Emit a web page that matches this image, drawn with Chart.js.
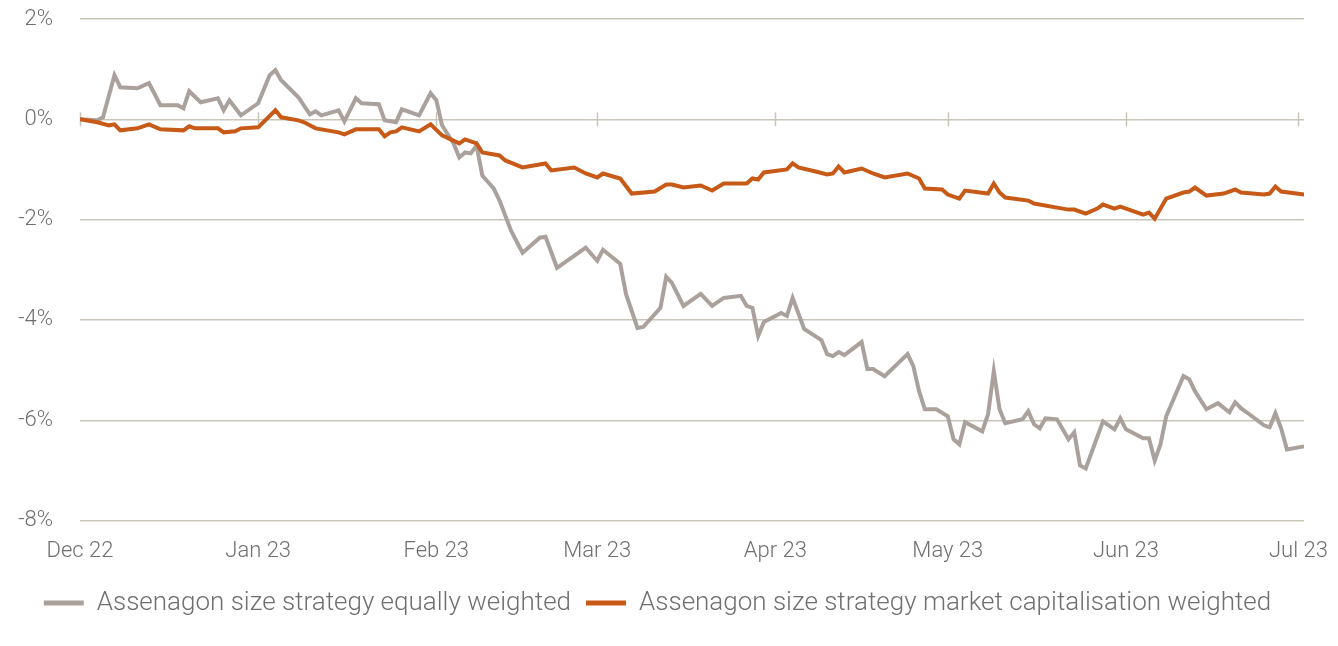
<!DOCTYPE html>
<html>
<head>
<meta charset="utf-8">
<script src="https://cdn.jsdelivr.net/npm/chart.js@4.4.0/dist/chart.umd.min.js"></script>
<style>
  html, body { margin: 0; padding: 0; background: #fff; }
  #wrap { width: 1338px; height: 646px; }
</style>
</head>
<body>
<div id="wrap"><canvas id="chart"></canvas></div>
<script>
// performance relative to start, in %
const eqDates = [
  '2022-12-01','2022-12-04','2022-12-05','2022-12-07','2022-12-08','2022-12-11','2022-12-13','2022-12-15',
  '2022-12-18','2022-12-19','2022-12-20','2022-12-22','2022-12-25','2022-12-26','2022-12-27','2022-12-29',
  '2023-01-01','2023-01-03','2023-01-04','2023-01-05','2023-01-08','2023-01-10','2023-01-11','2023-01-12',
  '2023-01-15','2023-01-16','2023-01-18','2023-01-19','2023-01-22','2023-01-23','2023-01-25','2023-01-26',
  '2023-01-29','2023-01-31','2023-02-01','2023-02-02','2023-02-04','2023-02-05','2023-02-06','2023-02-07',
  '2023-02-08','2023-02-09','2023-02-11','2023-02-12','2023-02-14','2023-02-16','2023-02-19','2023-02-20',
  '2023-02-22','2023-02-27','2023-03-01','2023-03-02','2023-03-05','2023-03-06','2023-03-08','2023-03-09',
  '2023-03-12','2023-03-13','2023-03-14','2023-03-16','2023-03-19','2023-03-21','2023-03-23','2023-03-26',
  '2023-03-27','2023-03-28','2023-03-29','2023-03-30','2023-04-02','2023-04-03','2023-04-04','2023-04-06',
  '2023-04-09','2023-04-10','2023-04-11','2023-04-12','2023-04-13','2023-04-16','2023-04-17','2023-04-18',
  '2023-04-20','2023-04-24','2023-04-25','2023-04-26','2023-04-27','2023-04-29','2023-05-01','2023-05-02',
  '2023-05-03','2023-05-04','2023-05-07','2023-05-08','2023-05-09','2023-05-10','2023-05-11','2023-05-14',
  '2023-05-15','2023-05-16','2023-05-17','2023-05-18','2023-05-20','2023-05-22','2023-05-23','2023-05-24',
  '2023-05-25','2023-05-28','2023-05-30','2023-05-31','2023-06-01','2023-06-04','2023-06-05','2023-06-06',
  '2023-06-07','2023-06-08','2023-06-11','2023-06-12','2023-06-13','2023-06-15','2023-06-17','2023-06-19',
  '2023-06-20','2023-06-21','2023-06-22','2023-06-25','2023-06-26','2023-06-27','2023-06-28','2023-06-29',
  '2023-07-02'
];
const eqValues = [
  0.00, -0.02, 0.04, 0.88, 0.64, 0.62, 0.72, 0.28,
  0.28, 0.22, 0.56, 0.34, 0.42, 0.18, 0.38, 0.08,
  0.32, 0.88, 0.98, 0.78, 0.44, 0.10, 0.16, 0.08,
  0.18, -0.04, 0.42, 0.32, 0.30, -0.02, -0.06, 0.20,
  0.08, 0.52, 0.38, -0.12, -0.48, -0.76, -0.66, -0.68,
  -0.52, -1.12, -1.38, -1.62, -2.22, -2.66, -2.36, -2.34,
  -2.96, -2.56, -2.82, -2.60, -2.88, -3.48, -4.16, -4.14,
  -3.76, -3.14, -3.26, -3.72, -3.48, -3.72, -3.56, -3.52,
  -3.72, -3.76, -4.32, -4.04, -3.86, -3.92, -3.56, -4.18,
  -4.40, -4.68, -4.72, -4.64, -4.70, -4.44, -4.98, -4.98,
  -5.12, -4.68, -4.92, -5.42, -5.78, -5.78, -5.92, -6.38,
  -6.48, -6.04, -6.22, -5.88, -5.02, -5.78, -6.06, -5.98,
  -5.82, -6.08, -6.16, -5.96, -5.98, -6.38, -6.24, -6.90,
  -6.96, -6.02, -6.18, -5.96, -6.18, -6.36, -6.36, -6.80,
  -6.48, -5.92, -5.12, -5.18, -5.42, -5.78, -5.66, -5.84,
  -5.64, -5.76, -5.84, -6.10, -6.14, -5.86, -6.16, -6.58,
  -6.52
];

const capDates = [
  '2022-12-01','2022-12-04','2022-12-06','2022-12-07','2022-12-08','2022-12-11','2022-12-13','2022-12-15',
  '2022-12-19','2022-12-20','2022-12-21','2022-12-25','2022-12-26','2022-12-28','2022-12-29','2023-01-01',
  '2023-01-04','2023-01-05','2023-01-08','2023-01-09','2023-01-11','2023-01-15','2023-01-16','2023-01-18',
  '2023-01-22','2023-01-23','2023-01-24','2023-01-25','2023-01-26','2023-01-29','2023-01-31','2023-02-02',
  '2023-02-05','2023-02-06','2023-02-08','2023-02-09','2023-02-12','2023-02-13','2023-02-16','2023-02-20',
  '2023-02-21','2023-02-25','2023-02-27','2023-03-01','2023-03-02','2023-03-05','2023-03-07','2023-03-11',
  '2023-03-13','2023-03-14','2023-03-16','2023-03-19','2023-03-21','2023-03-23','2023-03-27','2023-03-28',
  '2023-03-29','2023-03-30','2023-04-03','2023-04-04','2023-04-05','2023-04-08','2023-04-10','2023-04-11',
  '2023-04-12','2023-04-13','2023-04-16','2023-04-18','2023-04-20','2023-04-24','2023-04-26','2023-04-27',
  '2023-04-30','2023-05-01','2023-05-03','2023-05-04','2023-05-08','2023-05-09','2023-05-10','2023-05-11',
  '2023-05-15','2023-05-16','2023-05-20','2023-05-22','2023-05-23','2023-05-25','2023-05-27','2023-05-28',
  '2023-05-30','2023-05-31','2023-06-04','2023-06-05','2023-06-06','2023-06-08','2023-06-11','2023-06-12',
  '2023-06-13','2023-06-15','2023-06-18','2023-06-20','2023-06-21','2023-06-25','2023-06-26','2023-06-27',
  '2023-06-28','2023-07-02'
];
const capValues = [
  0.00, -0.06, -0.12, -0.10, -0.22, -0.18, -0.10, -0.20,
  -0.22, -0.14, -0.18, -0.18, -0.26, -0.24, -0.18, -0.16,
  0.18, 0.04, -0.02, -0.06, -0.18, -0.26, -0.30, -0.20,
  -0.20, -0.34, -0.26, -0.24, -0.16, -0.24, -0.10, -0.32,
  -0.48, -0.40, -0.48, -0.66, -0.72, -0.82, -0.96, -0.88,
  -1.02, -0.96, -1.08, -1.16, -1.08, -1.18, -1.48, -1.44,
  -1.30, -1.30, -1.36, -1.32, -1.42, -1.28, -1.28, -1.18,
  -1.20, -1.06, -1.00, -0.88, -0.96, -1.04, -1.10, -1.08,
  -0.94, -1.06, -0.98, -1.08, -1.16, -1.08, -1.18, -1.38,
  -1.40, -1.50, -1.58, -1.42, -1.48, -1.28, -1.46, -1.56,
  -1.62, -1.68, -1.76, -1.80, -1.80, -1.88, -1.78, -1.70,
  -1.78, -1.74, -1.90, -1.86, -1.98, -1.58, -1.46, -1.44,
  -1.36, -1.52, -1.48, -1.40, -1.46, -1.50, -1.48, -1.34,
  -1.44, -1.50
];

const tickDates = ['2022-12-01','2023-01-01','2023-02-01','2023-03-01','2023-04-01','2023-05-01','2023-06-01','2023-07-01'];
const tickLabels = ['Dec 22','Jan 23','Feb 23','Mar 23','Apr 23','May 23','Jun 23','Jul 23'];
const yTicks = [2, 0, -2, -4, -6, -8];

const seriesNames = [
  'Assenagon size strategy equally weighted',
  'Assenagon size strategy market capitalisation weighted'
];

const START = Date.UTC(2022, 11, 1);
function dayOf(s) {
  const p = s.split('-');
  return Math.round((Date.UTC(+p[0], +p[1] - 1, +p[2]) - START) / 86400000);
}
function toPoints(dates, vals) {
  return dates.map((d, i) => ({ x: dayOf(d), y: vals[i] }));
}

const GRID = '#c9c5b9';
const TEXT = '#6f6f6f';
const FONT = 'Roboto';

// small tick marks crossing the 0% axis line
const axisTicks = {
  id: 'axisTicks',
  beforeDatasetsDraw(chart) {
    const { ctx, scales: { x, y } } = chart;
    const y0 = y.getPixelForValue(0);
    ctx.save();
    ctx.strokeStyle = GRID;
    ctx.lineWidth = 1.5;
    tickDates.forEach(d => {
      const px = Math.round(x.getPixelForValue(dayOf(d))) + 0.5;
      ctx.beginPath();
      ctx.moveTo(px, y0 - 7);
      ctx.lineTo(px, y0 + 7);
      ctx.stroke();
    });
    ctx.restore();
  }
};

new Chart(document.getElementById('chart'), {
  type: 'line',
  data: {
    datasets: [{
      label: seriesNames[0],
      data: toPoints(eqDates, eqValues),
      borderColor: '#aaa19c',
      backgroundColor: '#aaa19c',
      borderWidth: 4,
      pointRadius: 0,
      tension: 0,
      order: 2
    }, {
      label: seriesNames[1],
      data: toPoints(capDates, capValues),
      borderColor: '#c85a17',
      backgroundColor: '#c85a17',
      borderWidth: 4,
      pointRadius: 0,
      tension: 0,
      order: 1
    }]
  },
  options: {
    responsive: true,
    maintainAspectRatio: false,
    animation: false,
    layout: { padding: { top: 19, right: 33, left: 10, bottom: 20 } },
    plugins: {
      tooltip: { enabled: false },
      legend: {
        position: 'bottom',
        labels: {
          color: TEXT,
          font: { family: FONT, size: 26, weight: 300 },
          boxWidth: 40,
          boxHeight: 5,
          padding: 15,
          generateLabels(chart) {
            return chart.data.datasets.map((ds, i) => ({
              text: ds.label,
              fillStyle: ds.borderColor,
              strokeStyle: ds.borderColor,
              lineWidth: 0,
              fontColor: TEXT,
              datasetIndex: i
            }));
          }
        }
      }
    },
    scales: {
      x: {
        type: 'linear',
        min: 0,
        max: dayOf('2023-07-02'),
        grid: { display: false },
        border: { display: false },
        afterBuildTicks(scale) {
          scale.ticks = tickDates.map(d => ({ value: dayOf(d) }));
        },
        ticks: {
          color: TEXT,
          font: { family: FONT, size: 22, weight: 300 },
          padding: 10,
          maxRotation: 0,
          autoSkip: false,
          callback(v) {
            const i = tickDates.findIndex(d => dayOf(d) === v);
            return i >= 0 ? tickLabels[i] : '';
          }
        }
      },
      y: {
        min: -8,
        max: 2,
        afterBuildTicks(scale) {
          scale.ticks = yTicks.map(v => ({ value: v }));
        },
        afterFit(scale) { scale.width = 70; },
        grid: { color: GRID, lineWidth: 1.5, drawTicks: true, tickLength: 27, tickColor: 'rgba(0,0,0,0)' },
        border: { display: false },
        ticks: {
          color: TEXT,
          font: { family: FONT, size: 22, weight: 300 },
          padding: 0,
          callback: v => v + '%'
        }
      }
    }
  },
  plugins: [axisTicks]
});
</script>
</body>
</html>
